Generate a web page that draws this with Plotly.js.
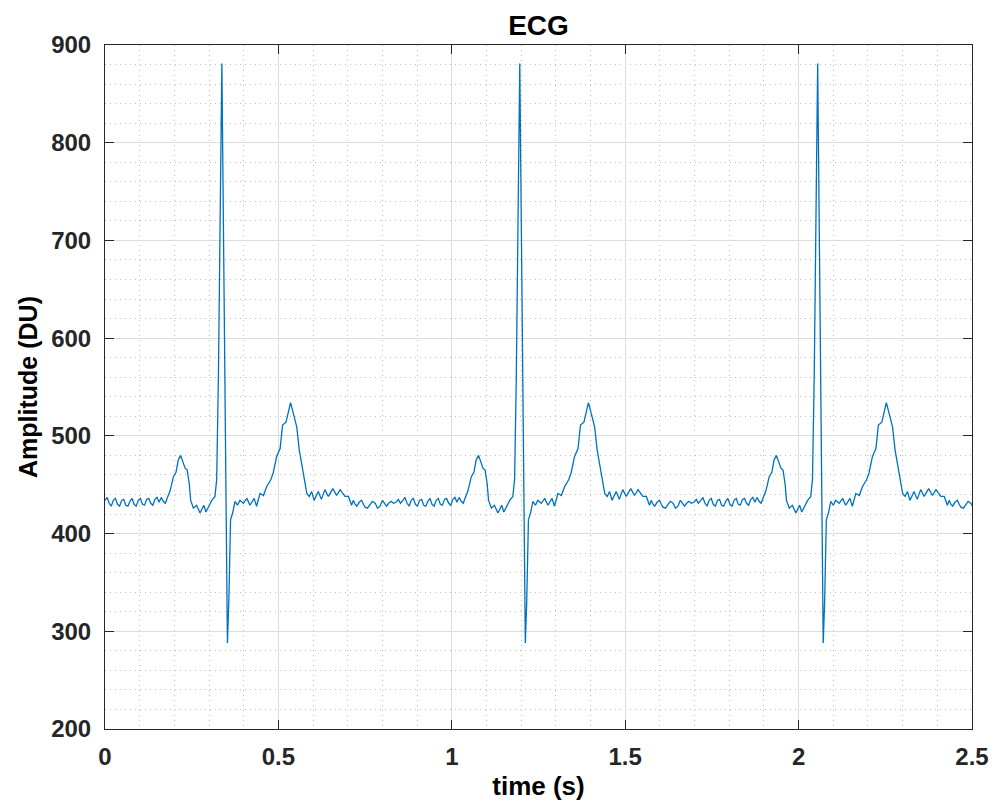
<!DOCTYPE html>
<html>
<head>
<meta charset="utf-8">
<script src="https://cdn.plot.ly/plotly-3.0.1.min.js"></script>
<style>html,body{margin:0;padding:0;background:#fff;}#chart{width:994px;height:805px;}</style>
</head>
<body>
<div id="chart"></div>
<script>
// One heartbeat (time within beat, s) and amplitude (DU)
const beatT = [0.000,0.006,0.012,0.018,0.024,0.030,0.036,0.042,0.048,0.054,0.060,0.066,0.072,0.078,0.084,0.090,0.096,0.102,0.108,0.114,0.120,0.126,0.132,0.138,0.144,0.150,0.156,0.162,0.168,0.174,
  0.180,0.187,0.192,0.197,0.205,0.211,0.218,0.226,0.231,0.237,0.243,0.247,0.255,0.264,0.274,0.285,0.291,0.298,0.308,0.317,
  0.322,0.327,0.332,0.337,0.353,0.357,0.362,0.368,0.375,0.382,0.389,0.399,0.409,0.418,0.430,0.437,0.447,0.457,0.466,0.478,
  0.485,0.495,0.505,0.512,0.522,0.529,0.535,0.543,0.553,0.560,0.568,0.574,0.582,0.589,0.596,0.603,0.615,0.624,0.634,0.644,
  0.657,0.668,0.678,0.692,0.702,0.711,0.716,0.721,0.726,0.733,0.740,0.745,0.750,0.757,0.764,0.771,0.779,0.786,0.793,0.800,
  0.806,0.812,0.818,0.825,0.832,0.839,0.846,0.852];
const beatV = [434,437,431,428,434,436,430,428,434,435,429,428,433,436,430,428,434,436,430,429,435,436,431,429,435,437,432,437,433,431,
  437,443,450,458,463,475,480,473,467,465,451,434,426,429,421,429,422,427,434,438,
  455,560,740,881,288,330,414,421,433,429,434,431,436,429,436,428,441,439,448,455,
  462,479,487,511,514,525,534,523,509,486,468,457,441,438,443,434,443,435,445,438,
  446,439,445,438,438,429,434,430,428,432,434,430,427,426,430,433,431,426,428,434,
  431,428,431,433,431,432,435,431];
const beatPeriod = 0.859;   // s between R peaks
const beatCount = 3;
const xTickVals = [0, 0.5, 1, 1.5, 2, 2.5];
const xTickText = ['0', '0.5', '1', '1.5', '2', '2.5'];
const yTickVals = [200, 300, 400, 500, 600, 700, 800, 900];

const timeS = [], amp = [];
for (let k = 0; k < beatCount; k++) {
  for (let j = 0; j < beatT.length; j++) {
    timeS.push(+(beatT[j] + k * beatPeriod).toFixed(4));
    amp.push(beatV[j]);
  }
}

const fontFam = 'Liberation Sans, Arial, Helvetica, sans-serif';
const tickFont = {family: fontFam, size: 24, color: '#262626', weight: 'bold'};
const axisCommon = {
  ticks: 'inside', ticklen: 9, tickwidth: 1, tickcolor: '#262626',
  showline: true, linecolor: '#262626', linewidth: 1, mirror: 'ticks',
  showgrid: true, gridcolor: '#dcdcdc', gridwidth: 1, zeroline: false,
  tickfont: tickFont
};
const minorGrid = {showgrid: true, gridcolor: '#bdbdbd', griddash: '1px,4px', gridwidth: 1, ticks: ''};

const trace = {
  x: timeS, y: amp, type: 'scatter', mode: 'lines',
  line: {color: '#0072BD', width: 1.3}, hoverinfo: 'skip'
};

const layout = {
  width: 994, height: 805,
  margin: {l: 105, r: 22, t: 45, b: 76},
  paper_bgcolor: '#ffffff', plot_bgcolor: '#ffffff',
  showlegend: false,
  title: {text: '<b>ECG</b>', font: {family: fontFam, size: 28, color: '#000000'},
          xref: 'paper', x: 0.5, xanchor: 'center', yref: 'container', y: 0.969, yanchor: 'middle'},
  xaxis: Object.assign({}, axisCommon, {
    range: [0, 2.5], tickmode: 'array', tickvals: xTickVals, ticktext: xTickText,
    ticklabelstandoff: 6,
    minor: Object.assign({dtick: 0.1, tick0: 0}, minorGrid),
    title: {text: '<b>time (s)</b>', font: {family: fontFam, size: 26, color: '#000000'}, standoff: 8}
  }),
  yaxis: Object.assign({}, axisCommon, {
    range: [200, 900], tickmode: 'array', tickvals: yTickVals,
    ticklabelstandoff: 8,
    minor: Object.assign({dtick: 20, tick0: 200}, minorGrid),
    title: {text: '<b>Amplitude (DU)</b>', font: {family: fontFam, size: 25, color: '#000000'}, standoff: 6}
  })
};

Plotly.newPlot('chart', [trace], layout, {displayModeBar: false, staticPlot: true});
</script>
</body>
</html>
